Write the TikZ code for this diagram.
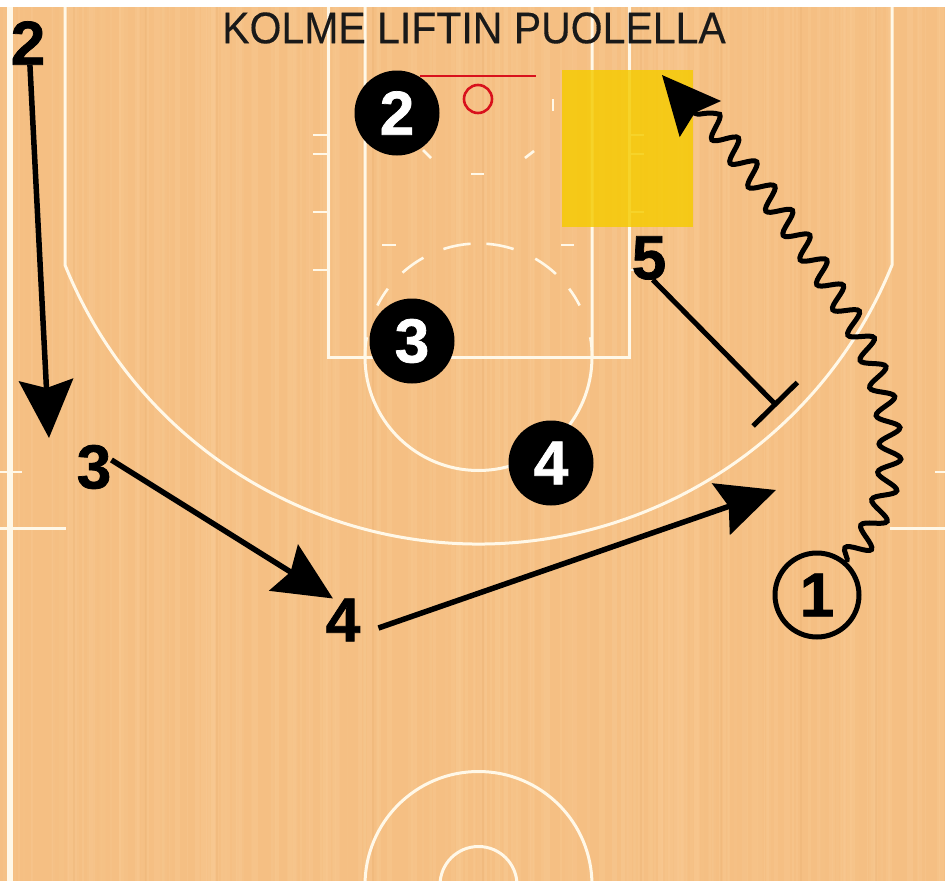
\documentclass[tikz,border=0pt]{standalone}
\usepackage{fontspec}
\setmainfont{Liberation Sans}[BoldFeatures={FakeBold=1.2}]
\usepackage{xcolor}
\usetikzlibrary{arrows.meta,decorations.pathmorphing}
\definecolor{wood}{HTML}{F5BF83}
\definecolor{woodlight}{HTML}{FBD09C}
\definecolor{wooddark}{HTML}{E9AC6C}
\definecolor{courtline}{HTML}{FFF8E8}
\definecolor{paintbox}{HTML}{F5CB00}
\definecolor{rimred}{HTML}{D8111C}

\begin{document}
\begin{tikzpicture}[x=1pt, y=1pt]
  % Styles
  \tikzstyle{line}=[draw=courtline, line width=3pt]
  \tikzstyle{tick}=[draw=courtline, line width=2.6pt]
  \tikzstyle{rim}=[draw=rimred, line width=2.6pt]
  \tikzstyle{defender}=[circle, fill=black, text=white, minimum size=85pt, inner sep=0pt, font=\fontsize{62}{62}\selectfont\bfseries]
  \tikzstyle{attacker}=[inner sep=0pt, text=black, font=\fontsize{62}{62}\selectfont\bfseries]
  \tikzstyle{ballcarrier}=[circle, draw=black, line width=5pt, minimum size=84pt, inner sep=0pt, font=\fontsize{62}{62}\selectfont\bfseries]
  \tikzstyle{cut}=[draw=black, line width=5.5pt, -{Stealth[length=58pt, width=54pt, inset=8pt]}]
  \tikzstyle{screen}=[draw=black, line width=5pt, -{Bar[width=62pt, line width=5pt]}]
  \tikzstyle{dribble}=[draw=black, line width=5pt, -{Stealth[length=58pt, width=54pt, inset=8pt]}, decorate, decoration={snake, segment length=30pt, amplitude=11pt, post length=36pt}]
  \useasboundingbox (0,-881) rectangle (951,0);

  % Floor
  \fill[white] (0,-881) rectangle (951,0);
  \fill[wood] (0,-881) rectangle (945,-7);
  \pgfmathsetseed{4711}
  \foreach \i in {1,...,230} {
    \pgfmathsetmacro{\xpos}{rnd*940}
    \pgfmathsetmacro{\wide}{1+rnd*5}
    \pgfmathsetmacro{\fade}{0.06+rnd*0.2}
    \fill[woodlight, opacity=\fade] (\xpos,-881) rectangle ({\xpos+\wide},-7);
  }
  \foreach \xpos in {73,145,216,372,482,640,720,800,875} {
    \fill[wooddark, opacity=0.25] (\xpos,-881) rectangle ({\xpos+1.5},-7);
  }

  % Court lines
  \draw[line, line width=6pt] (10,-881) -- (10,-7);
  \draw[line] (65,-7) -- (65,-265) arc[start angle=202, end angle=338, radius=446pt] -- (892,-7);
  \draw[line] (328,-7) -- (328,-357) -- (629,-357) -- (629,-7);
  \draw[line] (365,-7) -- (365,-357) arc[start angle=180, end angle=360, radius=113.5pt] -- (592,-7);
  \draw[line] (0,-528) -- (66,-528);
  \draw[line] (890,-528) -- (945,-528);
  \draw[tick] (0,-472) -- (22,-472);
  \draw[tick] (935,-472) -- (945,-472);
  \draw[line] (365,-885) arc[start angle=180, end angle=0, radius=113.5pt];
  \draw[line] (440,-885) arc[start angle=180, end angle=0, radius=38.5pt];
  \foreach \ypos in {135,154,212,270} {
    \draw[tick] (313,-\ypos) -- (328,-\ypos);
    \draw[tick] (629,-\ypos) -- (644,-\ypos);
  }

  % Dashes of the free throw circle and the key
  \foreach \from/\to in {94/108,72/86,119/132,47/60,143/153,27/37,170/180,0/10} {
    \draw[tick] (478.5,-357) ++(\from:113.5) arc[start angle=\from, end angle=\to, radius=113.5pt];
  }
  \draw[tick] (382,-245) -- (396,-245);
  \draw[tick] (561,-245) -- (574,-245);
  \draw[tick] (553,-99) -- (553,-111);
  \draw[tick] (423,-150) -- (431,-158);
  \draw[tick] (525,-158) -- (534,-151);
  \draw[tick] (471,-174) -- (484,-174);

  % Yellow box
  \fill[paintbox, opacity=0.82] (562,-70) rectangle (693,-227);

  % Basket
  \draw[rim] (420,-76) -- (536,-76);
  \draw[rim] (478,-99) circle (14);

  % Title
  \node[font=\fontsize{41}{41}\selectfont\addfontfeature{FakeBold=0.25}, text=black!90, inner sep=0pt, yscale=1.08] (title) at (474,-28) {KOLME LIFTIN PUOLELLA};

  % Players
  \node[defender] (d2) at (397,-113) {2};
  \node[defender] (d3) at (412,-341) {3};
  \node[defender] (d4) at (551,-463) {4};
  \node[attacker] (a2) at (28,-43) {2};
  \node[attacker] (a3) at (94,-467) {3};
  \node[attacker] (a4) at (343,-620) {4};
  \node[attacker] (a5) at (649,-258) {5};
  \node[ballcarrier] (a1) at (817,-595) {1};

  % Free ends
  \coordinate (cutend2) at (49,-438);
  \coordinate (cutend4) at (776,-490);
  \coordinate (screenend) at (777,-406);
  \coordinate (dribbleend) at (662,-75);

  % Arrows
  \draw[cut] (a2.-85) -- (cutend2);
  \draw[cut] (a3.22) -- (a4.115);
  \draw[cut] (a4.east) ++(18,-8) -- (cutend4);
  \draw[screen] (a5.-80) -- (screenend);
  \path[dribble] (a1.48) .. controls (885,-520) and (903,-445) .. (860,-350) .. controls (830,-290) and (730,-150) .. (dribbleend);
\end{tikzpicture}
\end{document}
